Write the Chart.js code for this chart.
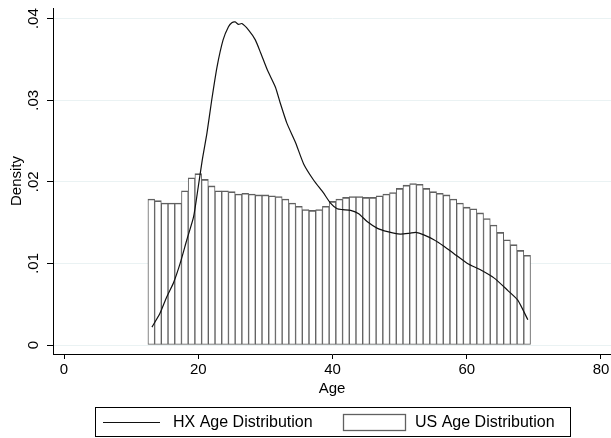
<!DOCTYPE html>
<html>
<head>
<meta charset="utf-8">
<script src="https://cdn.jsdelivr.net/npm/chart.js@4.4.1/dist/chart.umd.min.js"></script>
<style>
html, body { margin: 0; padding: 0; background: #fff; }
</style>
</head>
<body>
<canvas id="myChart" width="611" height="438"></canvas>
<script>
// US histogram: one bar per year of age
var ages = [13,14,15,16,17,18,19,20,21,22,23,24,25,26,27,28,29,30,31,32,33,34,35,36,37,38,39,40,
  41,42,43,44,45,46,47,48,49,50,51,52,53,54,55,56,57,58,59,60,61,62,63,64,65,66,67,68,69];
var usDensity = [0.0179,0.0177,0.0174,0.0174,0.0174,0.0189,0.0205,0.0210,0.0203,0.0195,0.0189,0.0189,
  0.0188,0.0185,0.0186,0.0185,0.0184,0.0184,0.0183,0.0182,0.0179,0.0174,0.0170,0.0166,0.0165,0.0166,
  0.0170,0.0176,0.0179,0.0181,0.0182,0.0182,0.0181,0.0181,0.0183,0.0185,0.0187,0.0192,0.0196,0.0198,
  0.0197,0.0192,0.0188,0.0186,0.0184,0.0179,0.0174,0.0169,0.0167,0.0162,0.0155,0.0147,0.0138,0.0129,
  0.0123,0.0116,0.0110];

// HX density curve
var hxAge = [13.1,14.3,15.3,16.3,17.3,18.3,19.3,20.0,20.6,21.3,22.0,22.8,23.7,24.5,25.0,25.5,26.0,26.5,
  27.5,28.5,29.3,30.3,31.5,32.2,33.2,34.5,35.7,37.2,38.6,39.7,40.7,41.5,42.7,43.9,45.2,46.7,48.2,50.1,
  51.5,52.4,53.6,55.1,56.6,58.1,60.1,62.1,64.1,66.1,67.6,69.1];
var hxDensity = [0.0022,0.0039,0.0059,0.0076,0.0100,0.0129,0.0157,0.0194,0.0227,0.0260,0.0300,0.0341,
  0.0374,0.0390,0.0395,0.0396,0.0393,0.0394,0.0386,0.0374,0.0358,0.0337,0.0316,0.0297,0.0272,0.0248,
  0.0222,0.0202,0.0187,0.0174,0.0167,0.0166,0.0165,0.0161,0.0151,0.0143,0.0139,0.0136,0.0137,0.0138,
  0.0135,0.0129,0.0121,0.0112,0.0100,0.0092,0.0082,0.0067,0.0055,0.0031];

var xTicks = [0, 20, 40, 60, 80];
var yTicks = [0, 0.01, 0.02, 0.03, 0.04];
var yTickLabels = ['0', '.01', '.02', '.03', '.04'];

var fontFam = '"Liberation Sans", Arial, Helvetica, sans-serif';

// y tick labels are vertical in the original, so draw them by hand
var yLabelPlugin = {
  id: 'yLabels',
  afterDraw: function(chart) {
    var ctx = chart.ctx;
    var ys = chart.scales.y;
    ctx.save();
    ctx.font = '15px ' + fontFam;
    ctx.fillStyle = '#000';
    ctx.textAlign = 'center';
    ctx.textBaseline = 'middle';
    yTicks.forEach(function(v, i) {
      ctx.save();
      ctx.translate(34, ys.getPixelForValue(v));
      ctx.rotate(-Math.PI / 2);
      ctx.fillText(yTickLabels[i], 0, 0);
      ctx.restore();
    });
    ctx.restore();
  }
};

// boxed legend under the axis
var legendPlugin = {
  id: 'boxLegend',
  afterDraw: function(chart) {
    var ctx = chart.ctx;
    var ds = chart.data.datasets;
    ctx.save();
    ctx.strokeStyle = '#000';
    ctx.lineWidth = 1;
    ctx.strokeRect(95.5, 407.5, 475, 29);
    var midY = 422;
    ctx.beginPath();
    ctx.moveTo(103, midY + 0.5);
    ctx.lineTo(160, midY + 0.5);
    ctx.strokeStyle = ds[0].borderColor;
    ctx.lineWidth = 1.2;
    ctx.stroke();
    ctx.fillStyle = '#fff';
    ctx.fillRect(343.5, 414.5, 62, 16);
    ctx.strokeStyle = ds[1].borderColor;
    ctx.lineWidth = 1.3;
    ctx.strokeRect(343.5, 414.5, 62, 16);
    ctx.font = '16px ' + fontFam;
    ctx.fillStyle = '#000';
    ctx.textBaseline = 'middle';
    ctx.fillText(ds[0].label, 173, midY + 1);
    ctx.fillText(ds[1].label, 415, midY + 1);
    ctx.restore();
  }
};

var ctx = document.getElementById('myChart').getContext('2d');

var myChart = new Chart(ctx, {
  data: {
    datasets: [{
      type: 'line',
      label: 'HX Age Distribution',
      data: hxAge.map(function(a, i) { return {x: a, y: hxDensity[i]}; }),
      borderColor: '#111',
      borderWidth: 1.2,
      pointRadius: 0,
      tension: 0.2,
      fill: false
    }, {
      type: 'bar',
      label: 'US Age Distribution',
      data: ages.map(function(a, i) { return {x: a, y: usDensity[i]}; }),
      backgroundColor: '#fff',
      borderColor: '#606060',
      borderWidth: { top: 1.6, bottom: 1.2, left: 1, right: 1 },
      borderSkipped: false,
      barPercentage: 1,
      categoryPercentage: 1
    }]
  },
  options: {
    responsive: false,
    animation: false,
    layout: { padding: { top: 8, right: 0, bottom: 40, left: 0 } },
    plugins: {
      legend: { display: false },
      tooltip: { enabled: false }
    },
    scales: {
      x: {
        type: 'linear',
        offset: false,
        min: -1.64,
        max: 81.49,
        afterBuildTicks: function(s) { s.ticks = xTicks.map(function(v) { return {value: v}; }); },
        afterFit: function(s) { s.height = 44; s.paddingLeft = 0; s.paddingRight = 0; },
        ticks: { font: { family: fontFam, size: 15 }, color: '#000', padding: 2, maxRotation: 0 },
        grid: { offset: false, drawOnChartArea: false, tickLength: 5, tickColor: '#000' },
        border: { color: '#000', width: 1 },
        title: { display: true, text: 'Age', color: '#000', font: { family: fontFam, size: 15 },
          padding: { top: 0, bottom: 0 } }
      },
      y: {
        type: 'linear',
        min: -0.0011,
        max: 0.04131,
        afterBuildTicks: function(s) { s.ticks = yTicks.map(function(v) { return {value: v}; }); },
        afterFit: function(s) { s.width = 53; },
        ticks: { display: false },
        grid: { color: '#eaf2f3', tickLength: 6, tickColor: '#000' },
        border: { color: '#000', width: 1 },
        title: { display: true, text: 'Density', color: '#000', font: { family: fontFam, size: 15 },
          padding: { top: 7.5, bottom: 0 } }
      }
    }
  },
  plugins: [yLabelPlugin, legendPlugin]
});
</script>
</body>
</html>
